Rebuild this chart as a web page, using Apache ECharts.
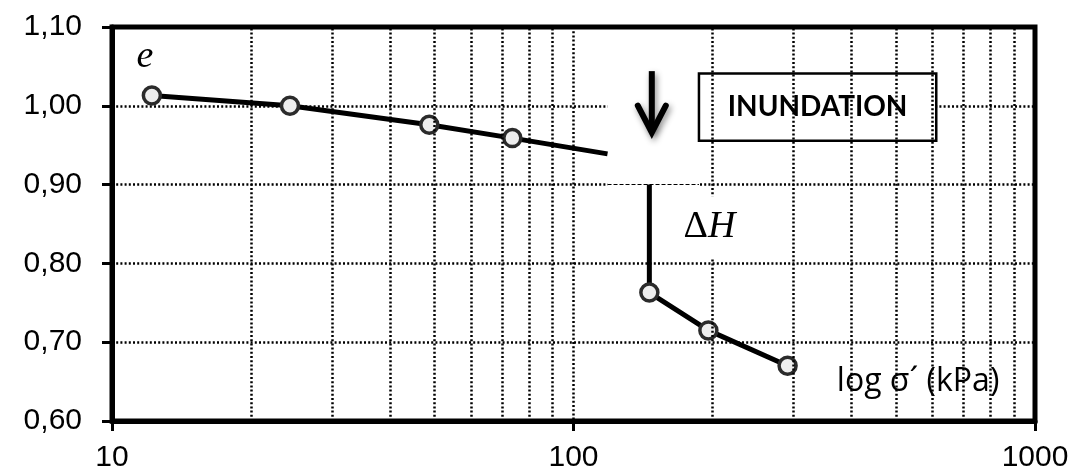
<!DOCTYPE html>
<html>
<head>
<meta charset="utf-8">
<script src="https://cdn.jsdelivr.net/npm/echarts@6/dist/echarts.min.js"></script>
<style>
  html, body { margin: 0; padding: 0; background: #fff; }
  #chart { width: 1072px; height: 470px; }
</style>
</head>
<body>
<div id="chart"></div>
<script>
// Void ratio e against effective stress (log scale), before and after inundation
const stressBefore = [12.2, 24.3, 48.7, 73.7];
const voidBefore = [1.013, 1.000, 0.976, 0.959];
const stressAfter = [146, 196, 291];
const voidAfter = [0.763, 0.715, 0.670];
// dry curve runs on until it meets the wetting note
const curveEnd = [118.5, 0.939];
// collapse step starts at e = 0.90 and drops to the first soaked reading
const collapseTop = 0.90;

const yMin = 0.6, yMax = 1.1, yStep = 0.1;
const xMin = 10, xMax = 1000;
const xMinorLines = [20, 30, 40, 50, 60, 70, 80, 90, 200, 300, 400, 500, 600, 700, 800, 900];

// annotation anchors, in data units
const arrowAt = [147.8, 1.044, 0.966];        // x, top, tip
const noteBox = [[187, 1.041], [611, 0.9557]];
const wetPatch = [[118.5, 1.09], [187, 0.895]];
const eLabelAt = [11.79, 1.062];
const dHLabelAt = [197, 0.846];
const xNameAt = [558, 0.650];

const chart = echarts.init(document.getElementById('chart'), null, { renderer: 'canvas' });

const dotted = { color: '#000', width: 2.5, type: [2, 2.2] };

const beforeData = stressBefore.map((s, i) => [s, voidBefore[i]]);
beforeData.push({ value: curveEnd, symbol: 'none' });
const afterData = [{ value: [stressAfter[0], collapseTop], symbol: 'none' }]
  .concat(stressAfter.map((s, i) => [s, voidAfter[i]]));

const markerStyle = { color: '#eeeeee', borderColor: '#2b2b2b', borderWidth: 3.5 };

chart.setOption({
  animation: false,
  backgroundColor: '#fff',
  grid: {
    left: 112, right: 37, top: 27, bottom: 49,
    show: true, borderColor: '#000', borderWidth: 5,
    containLabel: false, outerBoundsMode: 'none'
  },
  xAxis: {
    type: 'log', logBase: 10, min: xMin, max: xMax,
    axisLine: { show: true, lineStyle: { color: '#000', width: 5 } },
    axisTick: { show: true, inside: false, length: 10, lineStyle: { color: '#000', width: 3 } },
    axisLabel: {
      color: '#000', fontFamily: 'Liberation Sans', fontSize: 30, margin: 22,
      formatter: v => String(Math.round(v))
    },
    splitLine: { show: true, lineStyle: dotted },
    minorTick: { show: false }, minorSplitLine: { show: false }
  },
  yAxis: {
    type: 'value', min: yMin, max: yMax, interval: yStep,
    axisLine: { show: true, lineStyle: { color: '#000', width: 5 } },
    axisTick: { show: true, inside: false, length: 10, lineStyle: { color: '#000', width: 3 } },
    axisLabel: {
      color: '#000', fontFamily: 'Liberation Sans', fontSize: 30, margin: 30,
      formatter: v => v.toFixed(2).replace('.', ',')
    },
    splitLine: { show: true, lineStyle: dotted }
  },
  series: [
    {
      // intermediate log gridlines
      type: 'line', data: [], silent: true, z: 1,
      markLine: {
        silent: true, symbol: ['none', 'none'], animation: false,
        label: { show: false }, emphasis: { disabled: true },
        lineStyle: dotted,
        data: xMinorLines.map(v => ({ xAxis: v }))
      }
    },
    {
      // blank area behind the arrow, and the wetting note box
      type: 'line', data: [], silent: true, z: 2,
      markArea: {
        silent: true, emphasis: { disabled: true },
        data: [
          [
            { coord: wetPatch[0], itemStyle: { color: '#fff', borderWidth: 0 }, label: { show: false } },
            { coord: wetPatch[1] }
          ],
          [
            {
              coord: noteBox[0],
              itemStyle: { color: '#fff', borderColor: '#000', borderWidth: 2.5 },
              label: {
                show: true, position: 'inside', formatter: 'INUNDATION',
                fontFamily: 'Lato', fontWeight: 'bold', fontSize: 28, color: '#000'
              }
            },
            { coord: noteBox[1] }
          ]
        ]
      },
      markLine: {
        silent: true, symbol: ['none', 'none'], label: { show: false },
        lineStyle: { color: '#000', width: 1, type: [4, 2] },
        data: [[{ coord: [wetPatch[0][0], collapseTop] }, { coord: [wetPatch[1][0], collapseTop] }]]
      }
    },
    {
      type: 'line', data: beforeData, z: 3,
      symbol: 'circle', symbolSize: 17, showSymbol: true,
      lineStyle: { color: '#000', width: 5 },
      itemStyle: markerStyle, emphasis: { disabled: true }, silent: true
    },
    {
      type: 'line', data: afterData, z: 3,
      symbol: 'circle', symbolSize: 17, showSymbol: true,
      lineStyle: { color: '#000', width: 5 },
      itemStyle: markerStyle, emphasis: { disabled: true }, silent: true
    },
    {
      // arrow and text notes
      type: 'custom', z: 5, silent: true,
      data: [[100, 1.0]],
      renderItem: (params, api) => {
        const top = api.coord([arrowAt[0], arrowAt[1]]);
        const tip = api.coord([arrowAt[0], arrowAt[2]]);
        const shadow = { shadowBlur: 6, shadowColor: 'rgba(0,0,0,0.45)', shadowOffsetX: 2, shadowOffsetY: 3 };
        const e = api.coord(eLabelAt);
        const dh = api.coord(dHLabelAt);
        const xn = api.coord(xNameAt);
        return {
          type: 'group',
          children: [
            {
              type: 'polyline',
              shape: { points: [[top[0], top[1]], [tip[0], tip[1] - 3]] },
              style: Object.assign({ stroke: '#000', lineWidth: 6, fill: null }, shadow)
            },
            {
              type: 'polyline',
              shape: { points: [[tip[0] - 14, tip[1] - 27], [tip[0], tip[1]], [tip[0] + 14, tip[1] - 27]] },
              style: Object.assign({ stroke: '#000', lineWidth: 6, fill: null, lineJoin: 'miter', lineCap: 'round' }, shadow)
            },
            {
              type: 'text', x: e[0], y: e[1],
              style: {
                text: 'e', fill: '#000', font: 'italic 38px "Liberation Serif"',
                align: 'center', verticalAlign: 'middle'
              }
            },
            {
              type: 'text', x: dh[0], y: dh[1],
              style: {
                text: '{d|Δ}{h|H}', fill: '#000', align: 'center', verticalAlign: 'middle',
                backgroundColor: '#fff', padding: [12, 18],
                rich: {
                  d: { font: '38px "Liberation Serif"', fill: '#000' },
                  h: { font: 'italic 38px "Liberation Serif"', fill: '#000' }
                }
              }
            },
            {
              type: 'text', x: xn[0], y: xn[1],
              style: {
                text: 'log σ´ (kPa)', fill: '#000', font: '32px "Open Sans"',
                align: 'center', verticalAlign: 'middle'
              }
            }
          ]
        };
      }
    }
  ]
});
</script>
</body>
</html>
